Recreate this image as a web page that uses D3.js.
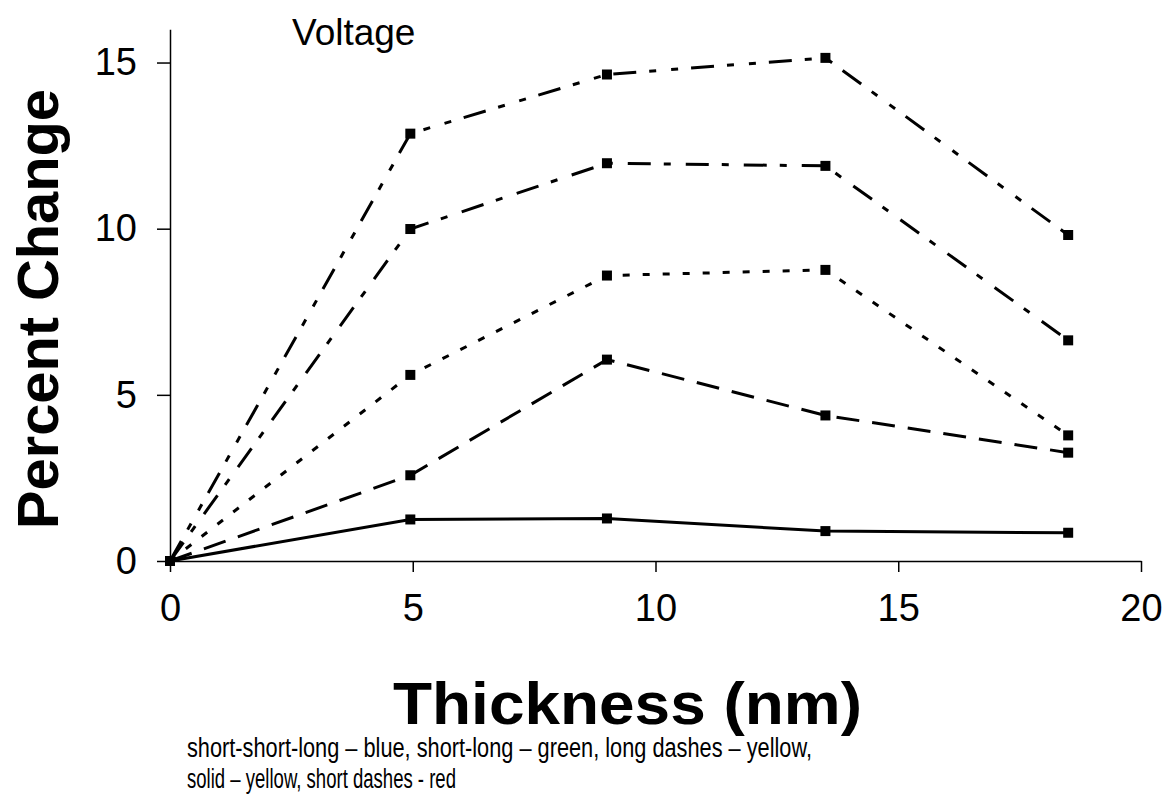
<!DOCTYPE html>
<html><head><meta charset="utf-8">
<script src="https://cdn.jsdelivr.net/npm/d3@7"></script>
<style>html,body{margin:0;padding:0;background:#fff;}svg{display:block;}</style>
</head><body>
<script>
// Data
const thickness = [0, 4.95, 9, 13.5, 18.5];
const seriesNames = ["short-short-long", "short-long", "short dashes", "long dashes", "solid"];
const shortShortLong = [0, 12.86, 14.64, 15.14, 9.81];
const shortLong      = [0, 9.99, 11.97, 11.89, 6.64];
const shortDashes    = [0, 5.6, 8.59, 8.76, 3.78];
const longDashes     = [0, 2.58, 6.06, 4.38, 3.26];
const solid          = [0, 1.25, 1.28, 0.9, 0.85];
const xTicks = [0, 5, 10, 15, 20];
const yTicks = [0, 5, 10, 15];

const W = 1169, H = 794;
const svg = d3.select("body").append("svg").attr("width", W).attr("height", H);
const x = d3.scaleLinear().domain([0, 20]).range([170, 1141]);
const y = d3.scaleLinear().domain([0, 16]).range([561, 29.3]);

const font = "'Liberation Sans', Arial, sans-serif";

// axes
const gx = svg.append("g").attr("transform", `translate(0,${y(0)})`)
  .call(d3.axisBottom(x).tickValues(xTicks).tickSizeInner(11).tickSizeOuter(0).tickPadding(22));
gx.selectAll("text").attr("font-family", font).attr("font-size", 38).attr("fill", "#000");
gx.selectAll("line,path").attr("stroke", "#000").attr("stroke-width", 1.5);

const gy = svg.append("g").attr("transform", `translate(${x(0)},0)`)
  .call(d3.axisLeft(y).tickValues(yTicks).tickSizeInner(13).tickSizeOuter(0).tickPadding(20));
gy.selectAll("text").attr("font-family", font).attr("font-size", 38).attr("fill", "#000");
gy.selectAll("line,path").attr("stroke", "#000").attr("stroke-width", 1.5);

// series
const allSeries = [
  {name: seriesNames[0], values: shortShortLong, dash: "23,13,7,15,7,13"},
  {name: seriesNames[1], values: shortLong, dash: "23,13,7,15"},
  {name: seriesNames[2], values: shortDashes, dash: "7,13"},
  {name: seriesNames[3], values: longDashes, dash: "23,13"},
  {name: seriesNames[4], values: solid, dash: null}
];
const line = d3.line().x(d => x(d[0])).y(d => y(d[1]));
allSeries.forEach(s => {
  const pts = thickness.map((t, i) => [t, s.values[i]]);
  svg.append("path").datum(pts).attr("d", line)
    .attr("fill", "none").attr("stroke", "#000").attr("stroke-width", 3)
    .attr("stroke-dasharray", s.dash);
  svg.append("g").selectAll("rect").data(pts).join("rect")
    .attr("x", d => x(d[0]) - 5).attr("y", d => y(d[1]) - 5)
    .attr("width", 10).attr("height", 10).attr("fill", "#000");
});

// texts
svg.append("text").attr("x", 292).attr("y", 45).attr("font-family", font)
  .attr("font-size", 37).text("Voltage");

svg.append("text").attr("transform", "translate(58,309) rotate(-90)")
  .attr("text-anchor", "middle").attr("font-family", font).attr("font-weight", "bold")
  .attr("font-size", 57).attr("textLength", 440).attr("lengthAdjust", "spacingAndGlyphs")
  .text("Percent Change");

svg.append("text").attr("x", 393).attr("y", 724).attr("font-family", font)
  .attr("font-weight", "bold").attr("font-size", 60)
  .attr("textLength", 469).attr("lengthAdjust", "spacingAndGlyphs").text("Thickness (nm)");

svg.append("text").attr("x", 187).attr("y", 757).attr("font-family", "'Liberation Sans Narrow', " + font)
  .attr("font-size", 27).attr("textLength", 625).attr("lengthAdjust", "spacingAndGlyphs")
  .text("short-short-long – blue,  short-long – green, long dashes – yellow,");
svg.append("text").attr("x", 187).attr("y", 788).attr("font-family", "'Liberation Sans Narrow', " + font)
  .attr("font-size", 27).attr("textLength", 269).attr("lengthAdjust", "spacingAndGlyphs")
  .text("solid – yellow, short dashes - red");
</script>
</body></html>
